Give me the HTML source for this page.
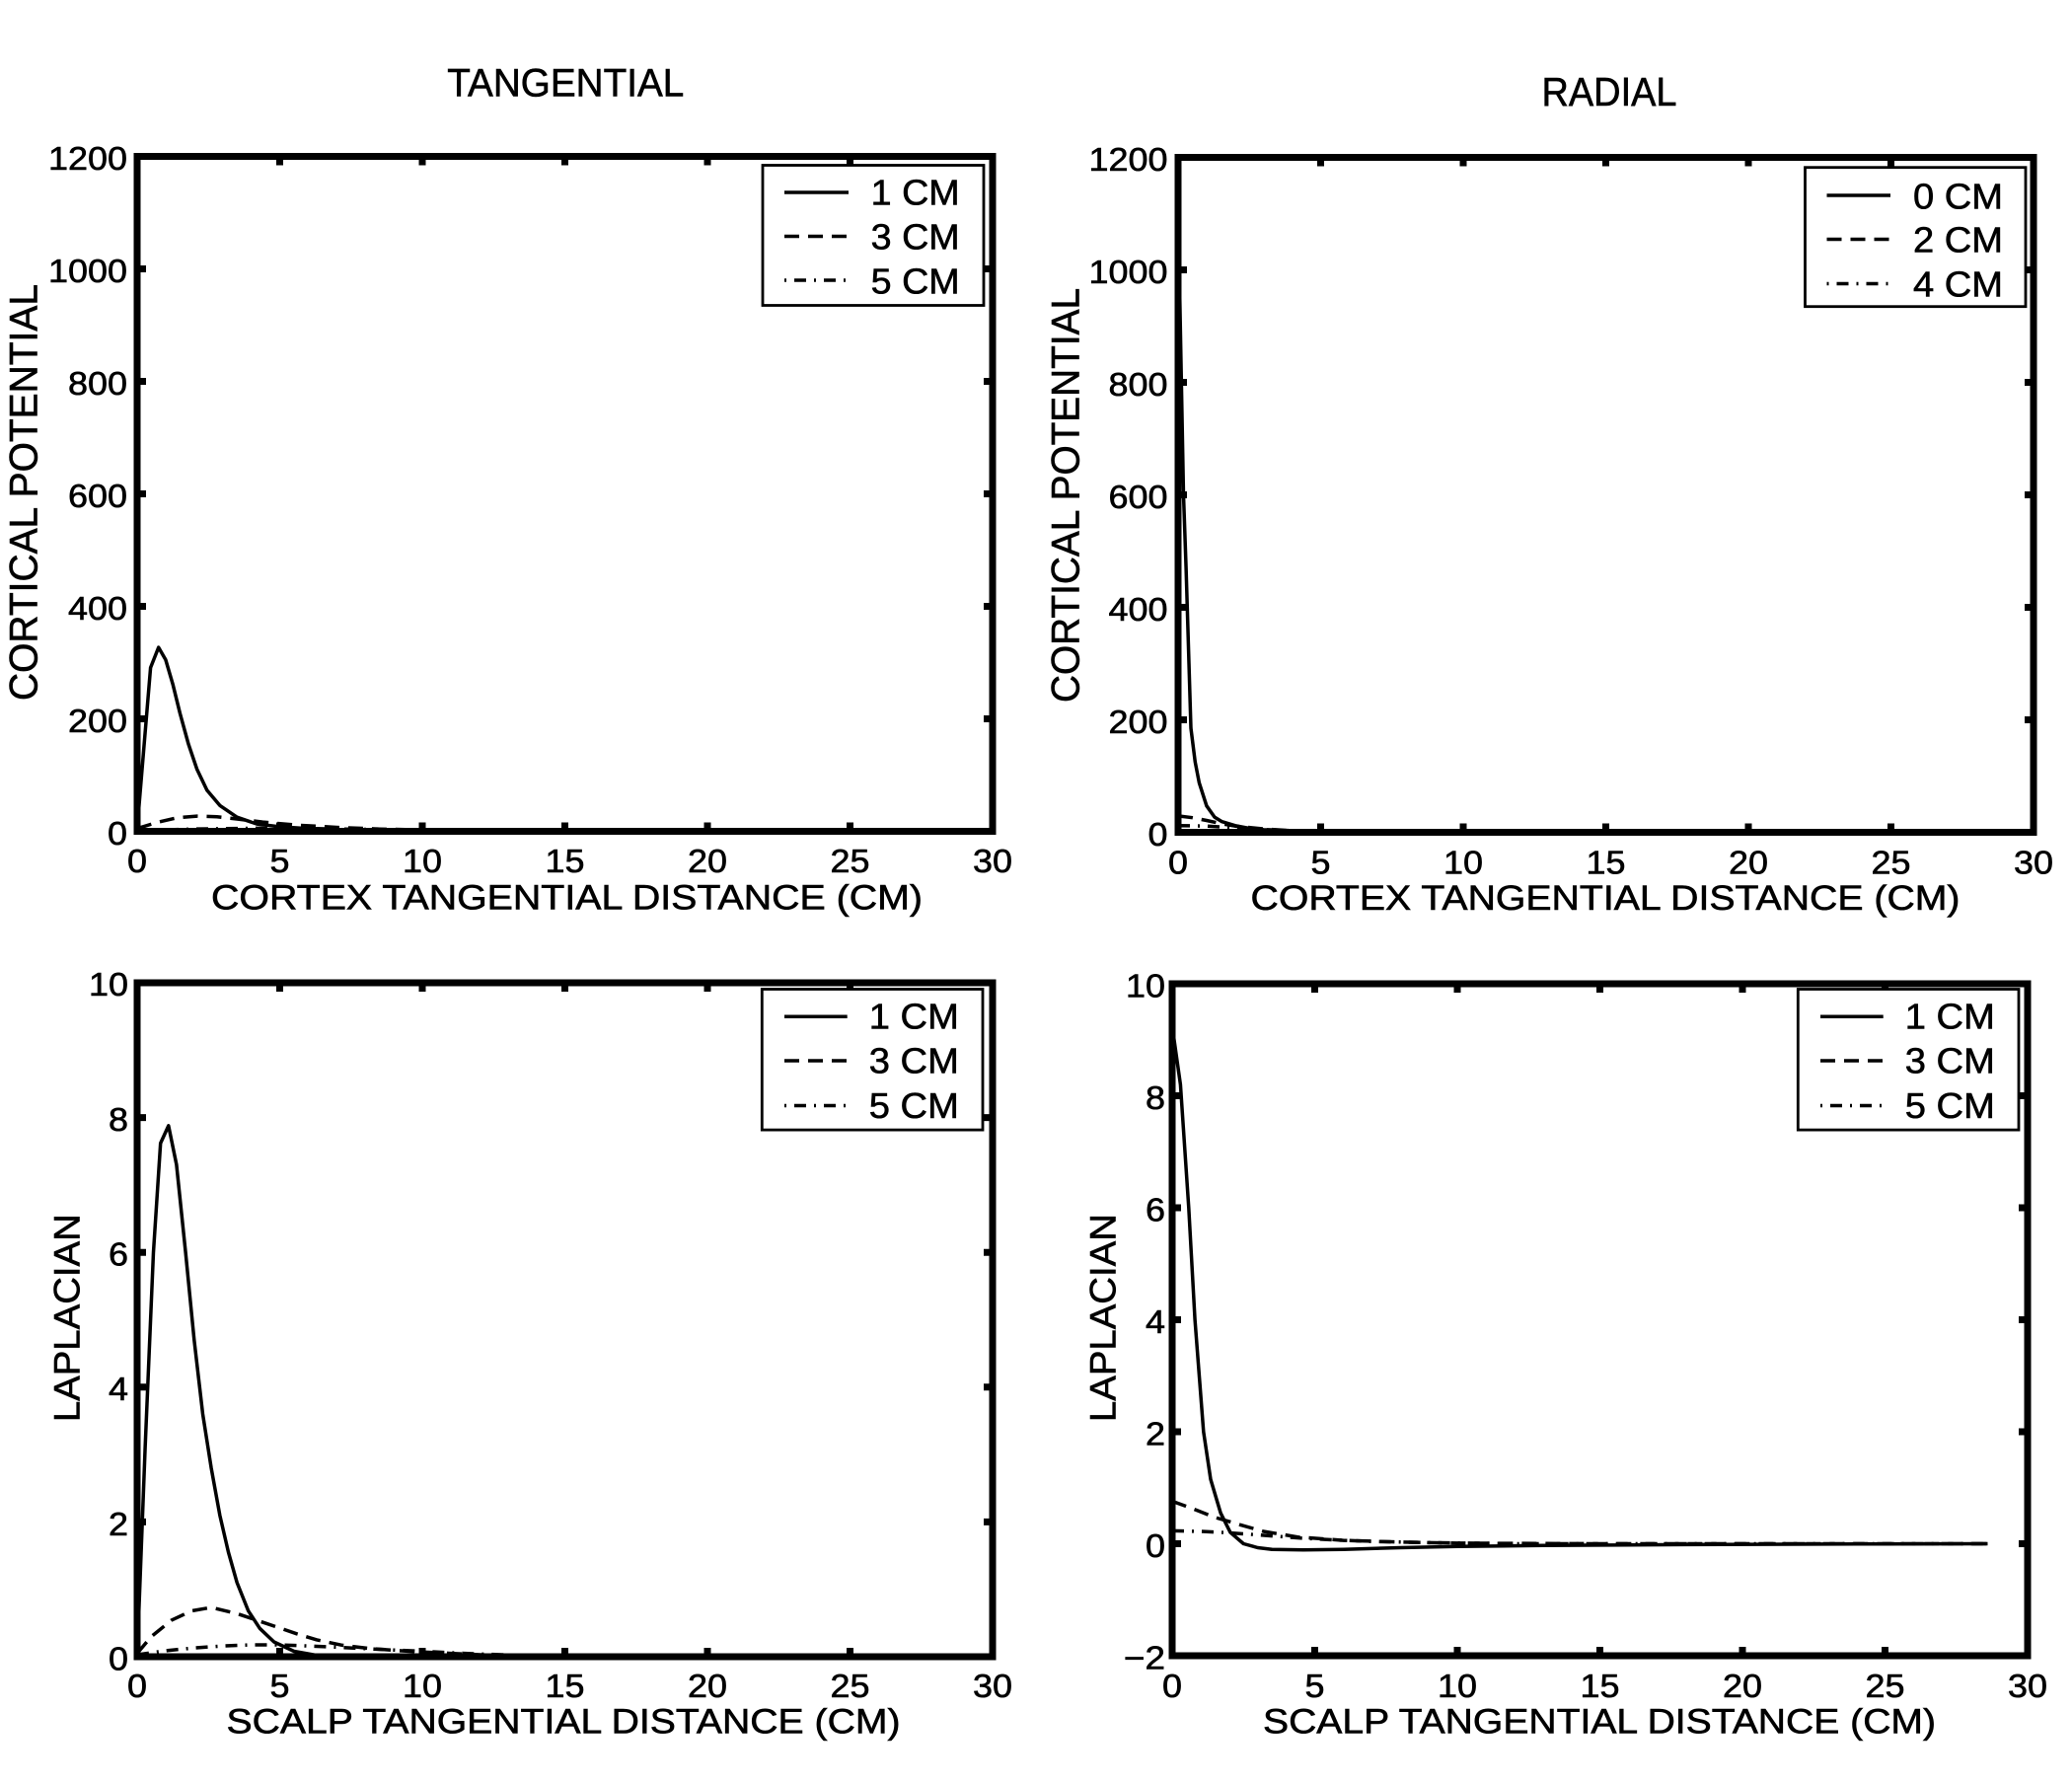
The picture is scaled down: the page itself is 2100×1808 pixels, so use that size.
<!DOCTYPE html>
<html>
<head>
<meta charset="utf-8">
<style>
  html, body { margin: 0; padding: 0; background: #ffffff; }
  svg { display: block; }
  text { font-family: "Liberation Sans", Arial, Helvetica, sans-serif; fill: #000; stroke: #000; stroke-width: 0.6; }
</style>
</head>
<body>
<svg xmlns="http://www.w3.org/2000/svg" width="2100" height="1808" viewBox="0 0 2100 1808">
  <rect x="0" y="0" width="2100" height="1808" fill="#ffffff"/>

  <!-- ================= TOP LEFT ================= -->
  <text x="573.3" y="97.3" font-size="40" text-anchor="middle" textLength="240" lengthAdjust="spacingAndGlyphs">TANGENTIAL</text>

  <g fill="none" stroke="#000" stroke-width="3.5" stroke-linejoin="round">
    <polyline points="139,839.7 159.2,833.4 179.5,828.8 199.7,827.1 219.9,827.7 240.2,830 266.2,833.1 300.8,836.2 341.3,838.5 384.7,840.2 428,841.1 485.8,841.8 572.5,842.3 717,842.5 1006,842.5" stroke-dasharray="15 9"/>
    <polyline points="139,841.9 196.8,840.2 254.6,839.4 312.4,839.7 370.2,840.5 428,841.1 514.7,841.9 659.2,842.3 1006,842.5" stroke-dasharray="12 8 2 8"/>
    <polyline points="139,839.6 152.6,676.6 160.7,656.1 167.9,668.6 175.1,693.2 182.4,722.8 191,754.1 199.7,779.8 209.8,800.9 222.8,816.3 240.2,828.2 260.4,835.1 283.5,837.9 312.4,839.7 341.3,840.8 370.2,841.4 428,841.9 543.6,842.3 1006,842.5"/>
  </g>

  <rect x="139" y="158.5" width="867" height="684" fill="none" stroke="#000" stroke-width="7"/>
  <path d="M139 272.5h9M139 386.5h9M139 500.5h9M139 614.5h9M139 728.5h9
           M1006 272.5h-9M1006 386.5h-9M1006 500.5h-9M1006 614.5h-9M1006 728.5h-9
           M283.5 158.5v9M428 158.5v9M572.5 158.5v9M717 158.5v9M861.5 158.5v9
           M283.5 842.5v-9M428 842.5v-9M572.5 842.5v-9M717 842.5v-9M861.5 842.5v-9"
        stroke="#000" stroke-width="7" fill="none"/>

  <g font-size="33" text-anchor="end">
    <text x="129" y="172" textLength="80" lengthAdjust="spacingAndGlyphs">1200</text>
    <text x="129" y="286" textLength="80" lengthAdjust="spacingAndGlyphs">1000</text>
    <text x="129" y="400" textLength="60" lengthAdjust="spacingAndGlyphs">800</text>
    <text x="129" y="514" textLength="60" lengthAdjust="spacingAndGlyphs">600</text>
    <text x="129" y="628" textLength="60" lengthAdjust="spacingAndGlyphs">400</text>
    <text x="129" y="742" textLength="60" lengthAdjust="spacingAndGlyphs">200</text>
    <text x="129" y="856" textLength="20" lengthAdjust="spacingAndGlyphs">0</text>
  </g>
  <g font-size="33" text-anchor="middle">
    <text x="139" y="884" textLength="20" lengthAdjust="spacingAndGlyphs">0</text>
    <text x="283.5" y="884" textLength="20" lengthAdjust="spacingAndGlyphs">5</text>
    <text x="428" y="884" textLength="40" lengthAdjust="spacingAndGlyphs">10</text>
    <text x="572.5" y="884" textLength="40" lengthAdjust="spacingAndGlyphs">15</text>
    <text x="717" y="884" textLength="40" lengthAdjust="spacingAndGlyphs">20</text>
    <text x="861.5" y="884" textLength="40" lengthAdjust="spacingAndGlyphs">25</text>
    <text x="1006" y="884" textLength="40" lengthAdjust="spacingAndGlyphs">30</text>
  </g>
  <text x="574.5" y="921.5" font-size="35" text-anchor="middle" textLength="721" lengthAdjust="spacingAndGlyphs">CORTEX TANGENTIAL DISTANCE (CM)</text>
  <text transform="translate(37.3,499) rotate(-90)" x="0" y="0" font-size="40" text-anchor="middle" textLength="422" lengthAdjust="spacingAndGlyphs">CORTICAL POTENTIAL</text>

  <rect x="773" y="167.5" width="224" height="142" fill="#fff" stroke="#000" stroke-width="2.8"/>
  <g stroke="#000" stroke-width="3.5" fill="none">
    <line x1="795" y1="195" x2="860" y2="195"/>
    <line x1="795" y1="239.5" x2="860" y2="239.5" stroke-dasharray="15 9"/>
    <line x1="795" y1="284" x2="860" y2="284" stroke-dasharray="2 8 12 8"/>
  </g>
  <g font-size="36">
    <text x="882.7" y="207.3" textLength="90" lengthAdjust="spacingAndGlyphs">1 CM</text>
    <text x="882.7" y="252.5" textLength="90" lengthAdjust="spacingAndGlyphs">3 CM</text>
    <text x="882.7" y="297.3" textLength="90" lengthAdjust="spacingAndGlyphs">5 CM</text>
  </g>

  <!-- ================= TOP RIGHT ================= -->
  <text x="1631" y="107.2" font-size="41" text-anchor="middle" textLength="137" lengthAdjust="spacingAndGlyphs">RADIAL</text>

  <g fill="none" stroke="#000" stroke-width="3.5" stroke-linejoin="round">
    <polyline points="1194,826.9 1208.5,828.7 1222.9,831.5 1237.4,834.7 1251.8,837.2 1280.7,840.1 1309.6,841.8 1338.5,842.6 1396.3,843.2 1483,843.5 2061,843.5" stroke-dasharray="15 9"/>
    <polyline points="1194,836.7 1222.9,837.2 1251.8,838.9 1280.7,840.7 1309.6,841.8 1367.4,842.9 1425.2,843.5 2061,843.5" stroke-dasharray="12 8 2 8"/>
    <polyline points="1195,262.1 1199.5,501.5 1202.1,575.6 1207,738 1211.3,772.2 1215.4,793.3 1222.9,816.7 1231,828.1 1238.5,832.7 1251.8,836.7 1266.3,839.5 1280.7,840.9 1309.6,842.1 1338.5,842.6 1396.3,843.2 1483,843.5 2061,843.5"/>
  </g>

  <rect x="1194" y="159.5" width="867" height="684" fill="none" stroke="#000" stroke-width="7"/>
  <path d="M1194 273.5h9M1194 387.5h9M1194 501.5h9M1194 615.5h9M1194 729.5h9
           M2061 273.5h-9M2061 387.5h-9M2061 501.5h-9M2061 615.5h-9M2061 729.5h-9
           M1338.5 159.5v9M1483 159.5v9M1627.5 159.5v9M1772 159.5v9M1916.5 159.5v9
           M1338.5 843.5v-9M1483 843.5v-9M1627.5 843.5v-9M1772 843.5v-9M1916.5 843.5v-9"
        stroke="#000" stroke-width="7" fill="none"/>

  <g font-size="33" text-anchor="end">
    <text x="1183.5" y="173" textLength="80" lengthAdjust="spacingAndGlyphs">1200</text>
    <text x="1183.5" y="287" textLength="80" lengthAdjust="spacingAndGlyphs">1000</text>
    <text x="1183.5" y="401" textLength="60" lengthAdjust="spacingAndGlyphs">800</text>
    <text x="1183.5" y="515" textLength="60" lengthAdjust="spacingAndGlyphs">600</text>
    <text x="1183.5" y="629" textLength="60" lengthAdjust="spacingAndGlyphs">400</text>
    <text x="1183.5" y="743" textLength="60" lengthAdjust="spacingAndGlyphs">200</text>
    <text x="1183.5" y="857" textLength="20" lengthAdjust="spacingAndGlyphs">0</text>
  </g>
  <g font-size="33" text-anchor="middle">
    <text x="1194" y="885.5" textLength="20" lengthAdjust="spacingAndGlyphs">0</text>
    <text x="1338.5" y="885.5" textLength="20" lengthAdjust="spacingAndGlyphs">5</text>
    <text x="1483" y="885.5" textLength="40" lengthAdjust="spacingAndGlyphs">10</text>
    <text x="1627.5" y="885.5" textLength="40" lengthAdjust="spacingAndGlyphs">15</text>
    <text x="1772" y="885.5" textLength="40" lengthAdjust="spacingAndGlyphs">20</text>
    <text x="1916.5" y="885.5" textLength="40" lengthAdjust="spacingAndGlyphs">25</text>
    <text x="2061" y="885.5" textLength="40" lengthAdjust="spacingAndGlyphs">30</text>
  </g>
  <text x="1627" y="922" font-size="35" text-anchor="middle" textLength="719" lengthAdjust="spacingAndGlyphs">CORTEX TANGENTIAL DISTANCE (CM)</text>
  <text transform="translate(1093.5,502) rotate(-90)" x="0" y="0" font-size="40" text-anchor="middle" textLength="420" lengthAdjust="spacingAndGlyphs">CORTICAL POTENTIAL</text>

  <rect x="1829.5" y="169.7" width="223.5" height="141" fill="#fff" stroke="#000" stroke-width="2.8"/>
  <g stroke="#000" stroke-width="3.5" fill="none">
    <line x1="1851.5" y1="198" x2="1916" y2="198"/>
    <line x1="1851.5" y1="242.5" x2="1916" y2="242.5" stroke-dasharray="15 9"/>
    <line x1="1851.5" y1="287.5" x2="1916" y2="287.5" stroke-dasharray="2 8 12 8"/>
  </g>
  <g font-size="36">
    <text x="1939" y="211.3" textLength="91" lengthAdjust="spacingAndGlyphs">0 CM</text>
    <text x="1939" y="255.5" textLength="91" lengthAdjust="spacingAndGlyphs">2 CM</text>
    <text x="1939" y="300.5" textLength="91" lengthAdjust="spacingAndGlyphs">4 CM</text>
  </g>

  <!-- ================= BOTTOM LEFT ================= -->
  <g fill="none" stroke="#000" stroke-width="3.5" stroke-linejoin="round">
    <polyline points="139,1675.6 153.5,1658.5 173.7,1642.1 193.9,1632.6 214.1,1629.1 240.2,1635.3 260.4,1642.1 280.6,1648.9 300.8,1655.8 321.1,1661.9 347.1,1667.4 376,1670.8 404.9,1672.9 428,1674.2 456.9,1675.6 500.3,1677.6 543.6,1679 1006,1679" stroke-dasharray="15 9"/>
    <polyline points="139,1677 167.9,1672.9 196.8,1670.1 225.7,1668.1 254.6,1667 283.5,1667 312.4,1668.1 341.3,1669.4 370.2,1670.8 399.1,1672.2 428,1673.5 456.9,1674.9 485.8,1676.3 529.2,1677.6 601.4,1679 1006,1679" stroke-dasharray="12 8 2 8"/>
    <polyline points="139,1679 147.1,1467.3 155.5,1269.2 162.7,1158.6 170.8,1140.8 178.9,1180.4 188.1,1269.2 196.8,1358 205.5,1433.1 214.1,1487.8 222.8,1535.6 231.5,1573.1 240.2,1603.9 251.7,1632.6 263.3,1650.3 277.7,1664 298,1673.5 321.1,1677.6 341.3,1679 1006,1679"/>
  </g>

  <rect x="139" y="996" width="867" height="683" fill="none" stroke="#000" stroke-width="7"/>
  <path d="M139 1132.6h9M139 1269.2h9M139 1405.8h9M139 1542.4h9
           M1006 1132.6h-9M1006 1269.2h-9M1006 1405.8h-9M1006 1542.4h-9
           M283.5 996v9M428 996v9M572.5 996v9M717 996v9M861.5 996v9
           M283.5 1679v-9M428 1679v-9M572.5 1679v-9M717 1679v-9M861.5 1679v-9"
        stroke="#000" stroke-width="7" fill="none"/>

  <g font-size="33" text-anchor="end">
    <text x="130" y="1009" textLength="40" lengthAdjust="spacingAndGlyphs">10</text>
    <text x="130" y="1146" textLength="20" lengthAdjust="spacingAndGlyphs">8</text>
    <text x="130" y="1282.5" textLength="20" lengthAdjust="spacingAndGlyphs">6</text>
    <text x="130" y="1419" textLength="20" lengthAdjust="spacingAndGlyphs">4</text>
    <text x="130" y="1556" textLength="20" lengthAdjust="spacingAndGlyphs">2</text>
    <text x="130" y="1692.5" textLength="20" lengthAdjust="spacingAndGlyphs">0</text>
  </g>
  <g font-size="33" text-anchor="middle">
    <text x="139" y="1720" textLength="20" lengthAdjust="spacingAndGlyphs">0</text>
    <text x="283.5" y="1720" textLength="20" lengthAdjust="spacingAndGlyphs">5</text>
    <text x="428" y="1720" textLength="40" lengthAdjust="spacingAndGlyphs">10</text>
    <text x="572.5" y="1720" textLength="40" lengthAdjust="spacingAndGlyphs">15</text>
    <text x="717" y="1720" textLength="40" lengthAdjust="spacingAndGlyphs">20</text>
    <text x="861.5" y="1720" textLength="40" lengthAdjust="spacingAndGlyphs">25</text>
    <text x="1006" y="1720" textLength="40" lengthAdjust="spacingAndGlyphs">30</text>
  </g>
  <text x="571" y="1756.5" font-size="35" text-anchor="middle" textLength="683" lengthAdjust="spacingAndGlyphs">SCALP TANGENTIAL DISTANCE (CM)</text>
  <text transform="translate(80.4,1335.7) rotate(-90)" x="0" y="0" font-size="37" text-anchor="middle" textLength="211" lengthAdjust="spacingAndGlyphs">LAPLACIAN</text>

  <rect x="772.3" y="1002.5" width="223.7" height="142.6" fill="#fff" stroke="#000" stroke-width="2.8"/>
  <g stroke="#000" stroke-width="3.5" fill="none">
    <line x1="795" y1="1030.2" x2="858.7" y2="1030.2"/>
    <line x1="795" y1="1075" x2="858.7" y2="1075" stroke-dasharray="15 9"/>
    <line x1="795" y1="1120.5" x2="858.7" y2="1120.5" stroke-dasharray="2 8 12 8"/>
  </g>
  <g font-size="36">
    <text x="880.8" y="1042.7" textLength="91" lengthAdjust="spacingAndGlyphs">1 CM</text>
    <text x="880.8" y="1087.5" textLength="91" lengthAdjust="spacingAndGlyphs">3 CM</text>
    <text x="880.8" y="1133" textLength="91" lengthAdjust="spacingAndGlyphs">5 CM</text>
  </g>

  <!-- ================= BOTTOM RIGHT ================= -->
  <g fill="none" stroke="#000" stroke-width="3.5" stroke-linejoin="round">
    <polyline points="1188,1521.4 1209.7,1529.3 1231.4,1537.8 1254.5,1544.6 1280.5,1552 1315.2,1557.7 1361.4,1561.1 1419.2,1562.8 1477,1563.9 1621.5,1564.5 2014.5,1564.5" stroke-dasharray="15 9"/>
    <polyline points="1188,1551.4 1216.9,1552 1242.9,1553.2 1266,1554.9 1289.2,1556.6 1318.1,1558.8 1349.8,1560.5 1390.3,1562.2 1448.1,1563.4 1534.8,1564.5 2014.5,1564.5" stroke-dasharray="12 8 2 8"/>
    <polyline points="1189,1046.9 1196.4,1099.1 1204.8,1224 1211.1,1337.5 1219.8,1451 1227,1499.2 1237.1,1533.3 1247,1553.1 1260.3,1564.5 1274.7,1568.5 1289.2,1570.2 1320.9,1570.7 1361.4,1570.2 1419.2,1568.5 1477,1567.3 1563.7,1566.2 1708.2,1565.4 1881.6,1564.8 2014.5,1564.5"/>
  </g>

  <rect x="1188" y="997" width="867" height="681" fill="none" stroke="#000" stroke-width="7"/>
  <path d="M1188 1110.5h9M1188 1224h9M1188 1337.5h9M1188 1451h9M1188 1564.5h9
           M2055 1110.5h-9M2055 1224h-9M2055 1337.5h-9M2055 1451h-9M2055 1564.5h-9
           M1332.5 997v9M1477 997v9M1621.5 997v9M1766 997v9M1910.5 997v9
           M1332.5 1678v-9M1477 1678v-9M1621.5 1678v-9M1766 1678v-9M1910.5 1678v-9"
        stroke="#000" stroke-width="7" fill="none"/>

  <g font-size="33" text-anchor="end">
    <text x="1181" y="1010.5" textLength="40" lengthAdjust="spacingAndGlyphs">10</text>
    <text x="1181" y="1124" textLength="20" lengthAdjust="spacingAndGlyphs">8</text>
    <text x="1181" y="1237.5" textLength="20" lengthAdjust="spacingAndGlyphs">6</text>
    <text x="1181" y="1351" textLength="20" lengthAdjust="spacingAndGlyphs">4</text>
    <text x="1181" y="1464.5" textLength="20" lengthAdjust="spacingAndGlyphs">2</text>
    <text x="1181" y="1578" textLength="20" lengthAdjust="spacingAndGlyphs">0</text>
    <text x="1181" y="1691.5" textLength="42" lengthAdjust="spacingAndGlyphs">−2</text>
  </g>
  <g font-size="33" text-anchor="middle">
    <text x="1188" y="1720" textLength="20" lengthAdjust="spacingAndGlyphs">0</text>
    <text x="1332.5" y="1720" textLength="20" lengthAdjust="spacingAndGlyphs">5</text>
    <text x="1477" y="1720" textLength="40" lengthAdjust="spacingAndGlyphs">10</text>
    <text x="1621.5" y="1720" textLength="40" lengthAdjust="spacingAndGlyphs">15</text>
    <text x="1766" y="1720" textLength="40" lengthAdjust="spacingAndGlyphs">20</text>
    <text x="1910.5" y="1720" textLength="40" lengthAdjust="spacingAndGlyphs">25</text>
    <text x="2055" y="1720" textLength="40" lengthAdjust="spacingAndGlyphs">30</text>
  </g>
  <text x="1621" y="1756.5" font-size="35" text-anchor="middle" textLength="682" lengthAdjust="spacingAndGlyphs">SCALP TANGENTIAL DISTANCE (CM)</text>
  <text transform="translate(1130.4,1335.6) rotate(-90)" x="0" y="0" font-size="37" text-anchor="middle" textLength="211" lengthAdjust="spacingAndGlyphs">LAPLACIAN</text>

  <rect x="1822.3" y="1002.5" width="223.7" height="142.6" fill="#fff" stroke="#000" stroke-width="2.8"/>
  <g stroke="#000" stroke-width="3.5" fill="none">
    <line x1="1845" y1="1030.2" x2="1908.7" y2="1030.2"/>
    <line x1="1845" y1="1075" x2="1908.7" y2="1075" stroke-dasharray="15 9"/>
    <line x1="1845" y1="1120.5" x2="1908.7" y2="1120.5" stroke-dasharray="2 8 12 8"/>
  </g>
  <g font-size="36">
    <text x="1930.8" y="1042.7" textLength="91" lengthAdjust="spacingAndGlyphs">1 CM</text>
    <text x="1930.8" y="1087.5" textLength="91" lengthAdjust="spacingAndGlyphs">3 CM</text>
    <text x="1930.8" y="1133" textLength="91" lengthAdjust="spacingAndGlyphs">5 CM</text>
  </g>
</svg>
</body>
</html>
